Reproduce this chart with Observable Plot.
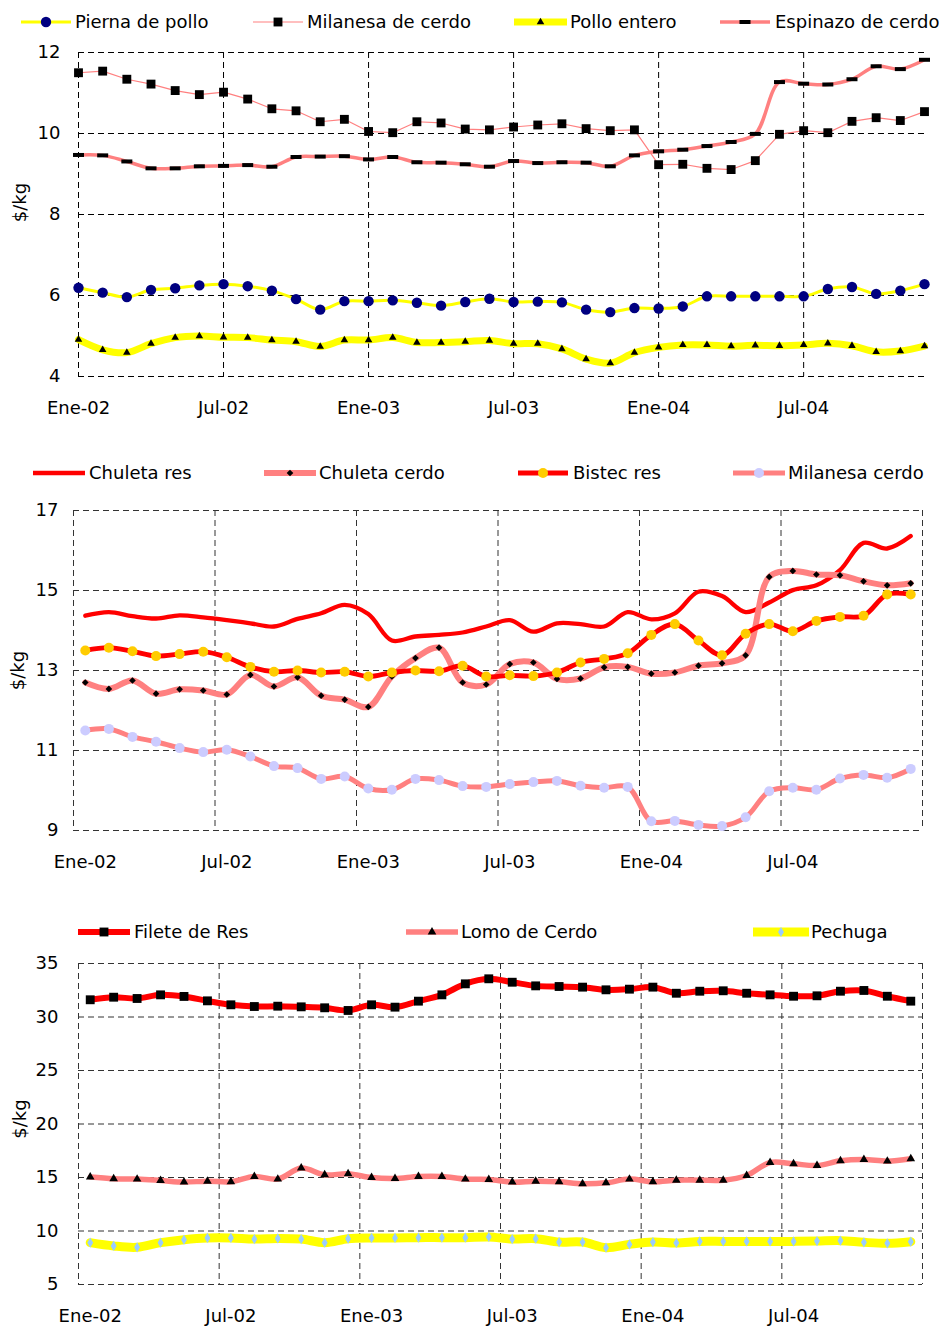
<!DOCTYPE html>
<html><head><meta charset="utf-8">
<script src="https://cdn.jsdelivr.net/npm/d3@7"></script>
<script src="https://cdn.jsdelivr.net/npm/@observablehq/plot@0.6"></script>
<style>
body{margin:0;background:#fff;}
#root{position:relative;width:945px;height:1330px;overflow:hidden;font-family:"DejaVu Sans",Verdana,sans-serif;background:#fff;}
#root svg{position:absolute;left:0;background:transparent !important;}
</style></head><body><div id="root"></div>
<script>
// ---------- data ----------
const tickLabels = ["Ene-02","Jul-02","Ene-03","Jul-03","Ene-04","Jul-04"];
const tickIdx = [0,6,12,18,24,30];

const names1 = ["Pierna de pollo","Milanesa de cerdo","Pollo entero","Espinazo de cerdo"];
const piernaPollo = [6.19,6.07,5.96,6.14,6.18,6.25,6.28,6.23,6.12,5.91,5.65,5.86,5.86,5.88,5.82,5.75,5.84,5.92,5.84,5.85,5.83,5.65,5.59,5.69,5.68,5.73,5.98,5.98,5.98,5.98,5.98,6.16,6.21,6.04,6.12,6.28];
const milanesaCerdo = [11.50,11.54,11.34,11.22,11.06,10.96,11.02,10.85,10.61,10.56,10.29,10.35,10.05,10.02,10.29,10.26,10.11,10.09,10.16,10.21,10.24,10.12,10.07,10.09,9.23,9.24,9.14,9.11,9.33,9.98,10.07,10.02,10.30,10.39,10.32,10.54];
const polloEntero = [4.91,4.66,4.59,4.81,4.96,5.00,4.97,4.96,4.90,4.86,4.74,4.90,4.90,4.96,4.84,4.84,4.86,4.89,4.81,4.81,4.68,4.43,4.33,4.59,4.72,4.78,4.78,4.75,4.77,4.76,4.78,4.82,4.76,4.61,4.63,4.75];
const espinazoCerdo = [9.47,9.46,9.31,9.14,9.14,9.19,9.20,9.22,9.18,9.42,9.43,9.44,9.36,9.42,9.29,9.28,9.24,9.18,9.32,9.27,9.29,9.28,9.19,9.46,9.56,9.60,9.69,9.79,9.99,11.27,11.23,11.21,11.34,11.66,11.59,11.82];
const yTicks1 = [4,6,8,10,12];

const names2 = ["Chuleta res","Chuleta cerdo","Bistec res","Milanesa cerdo"];
const chuletaRes = [14.37,14.46,14.36,14.30,14.38,14.33,14.26,14.18,14.10,14.29,14.43,14.64,14.41,13.75,13.85,13.89,13.95,14.10,14.26,13.97,14.18,14.16,14.10,14.46,14.28,14.43,14.97,14.86,14.46,14.70,15.01,15.13,15.51,16.19,16.05,16.36];
const chuletaCerdo = [12.70,12.54,12.75,12.42,12.53,12.50,12.40,12.89,12.60,12.83,12.37,12.27,12.09,12.85,13.31,13.57,12.70,12.65,13.16,13.20,12.79,12.80,13.08,13.09,12.92,12.95,13.12,13.18,13.38,15.34,15.49,15.40,15.38,15.23,15.13,15.18];
const bistecRes = [13.50,13.57,13.48,13.36,13.41,13.47,13.33,13.09,12.97,13.00,12.95,12.97,12.85,12.95,13.00,12.98,13.12,12.85,12.88,12.86,12.95,13.20,13.29,13.43,13.89,14.16,13.75,13.38,13.92,14.16,13.98,14.24,14.34,14.37,14.90,14.90];
const yTicks2 = [9,11,13,15,17];

const names3 = ["Filete de Res","Lomo de Cerdo","Pechuga"];
const fileteRes = [31.61,31.85,31.73,32.07,31.92,31.51,31.14,30.98,31.01,30.95,30.86,30.61,31.14,30.92,31.48,32.07,33.10,33.57,33.25,32.91,32.85,32.79,32.54,32.60,32.79,32.22,32.41,32.45,32.22,32.07,31.94,31.98,32.41,32.48,31.94,31.48];
const lomoCerdo = [15.04,14.88,14.85,14.72,14.57,14.66,14.60,15.10,14.85,15.88,15.25,15.35,15.00,14.91,15.10,15.10,14.85,14.82,14.57,14.66,14.60,14.41,14.50,14.85,14.60,14.75,14.75,14.75,15.19,16.40,16.28,16.12,16.56,16.68,16.53,16.75];
const pechuga = [8.91,8.60,8.48,8.91,9.19,9.35,9.35,9.25,9.31,9.25,8.91,9.28,9.35,9.35,9.38,9.38,9.38,9.44,9.25,9.28,8.97,8.97,8.44,8.75,8.97,8.88,9.03,9.03,9.03,9.03,9.03,9.06,9.10,8.94,8.85,9.00];
const yTicks3 = [5,10,15,20,25,30,35];

// ---------- styles ----------
const FONT = "DejaVu Sans, Verdana, sans-serif";
const dashSym = {draw(ctx){ const w=11,h=4; ctx.moveTo(-w/2,-h/2); ctx.lineTo(w/2,-h/2); ctx.lineTo(w/2,h/2); ctx.lineTo(-w/2,h/2); ctx.closePath(); }};
const d3Sym = {circle:d3.symbolCircle, square:d3.symbolSquare, triangle:d3.symbolTriangle, diamond:d3.symbolDiamond, diamond2:d3.symbolDiamond2};

const st1 = [
  {stroke:"#FFFF00", sw:3, curve:"catmull-rom", symbol:"circle", r:5.2, fill:"#000080"},
  {stroke:"#FF8080", sw:1.2, curve:"linear", symbol:"square", r:5, fill:"#000"},
  {stroke:"#FFFF00", sw:7, curve:"catmull-rom", symbol:"triangle", r:2.8, fill:"#000"},
  {stroke:"#FF8080", sw:3.5, curve:"catmull-rom", symbol:dashSym, r:4, fill:"#000"}
];
const st2 = [
  {stroke:"#FF0000", sw:4.3, curve:"catmull-rom"},
  {stroke:"#FF8080", sw:6, curve:"catmull-rom", symbol:"diamond2", r:3, fill:"#000"},
  {stroke:"#FF0000", sw:4.8, curve:"catmull-rom", symbol:"circle", r:5, fill:"#FFCC00"},
  {stroke:"#FF8080", sw:5, curve:"catmull-rom", symbol:"circle", r:5, fill:"#CCCCFF"}
];
const st3 = [
  {stroke:"#FF0000", sw:6, curve:"catmull-rom", symbol:"square", r:5, fill:"#000"},
  {stroke:"#FF8080", sw:5.5, curve:"catmull-rom", symbol:"triangle", r:3.2, fill:"#000"},
  {stroke:"#FFFF00", sw:9, curve:"catmull-rom", symbol:"diamond", r:3.1, fill:"#99CCFF"}
];

const root = document.getElementById("root");

function seriesMarks(vals, s){
  const data = vals.map((v,i)=>({i, v}));
  const m = [Plot.line(data, {x:"i", y:"v", stroke:s.stroke, strokeWidth:s.sw, curve:s.curve, strokeLinejoin:"round", strokeLinecap:"round"})];
  if (s.symbol) m.push(Plot.dot(data, {x:"i", y:"v", r:s.r, fill:s.fill, stroke:"none", symbol:s.symbol}));
  return m;
}

function panel(cfg){
  const grid = {stroke:cfg.gridColor, strokeOpacity:1, strokeWidth:1, strokeDasharray:"6,4"};
  const marks = [
    Plot.gridY(cfg.yTicks, grid),
    Plot.gridX(cfg.xGrid, grid),
    Plot.axisX(tickIdx, {tickSize:0, tickPadding:cfg.xPad, tickFormat:i=>tickLabels[i/6], fontSize:18, label:null}),
    Plot.axisY(cfg.yTicks, {tickSize:0, tickPadding:cfg.yPad, fontSize:18, label:null}),
    Plot.text(["$/kg"], {frameAnchor:"left", textAnchor:"middle", dx:cfg.labDx, dy:cfg.labDy, rotate:-90, fontSize:18, fill:"#000"})
  ];
  cfg.series.forEach((vals,k)=>marks.push(...seriesMarks(vals, cfg.styles[k])));
  const svg = Plot.plot({
    width:945, height:cfg.height,
    marginTop:cfg.mt, marginBottom:cfg.mb, marginLeft:cfg.ml, marginRight:cfg.mr,
    style:{fontFamily:FONT, fontSize:"18px", color:"#000", background:"transparent"},
    x:{domain:cfg.xDomain}, y:{domain:cfg.yDomain},
    marks
  });
  svg.style.top = cfg.top + "px";
  root.appendChild(svg);
}

function legend(top, items, names, styles){
  const h = 28, cy = h/2;
  const svg = d3.create("svg").attr("width",945).attr("height",h).style("top", top+"px");
  items.forEach((it,k)=>{
    const s = styles[k];
    svg.append("line").attr("x1",it[0]).attr("x2",it[1]).attr("y1",cy).attr("y2",cy).attr("stroke",s.stroke).attr("stroke-width",s.sw);
    if (s.symbol){
      const type = typeof s.symbol === "string" ? d3Sym[s.symbol] : s.symbol;
      svg.append("path").attr("d", d3.symbol(type, Math.PI*s.r*s.r)()).attr("transform",`translate(${(it[0]+it[1])/2},${cy})`).attr("fill",s.fill);
    }
    svg.append("text").attr("x",it[2]).attr("y",cy).attr("dy","0.36em").attr("font-size",18).attr("font-family",FONT).attr("fill","#000").text(names[k]);
  });
  root.appendChild(svg.node());
}

// ---------- panels ----------
panel({top:32, height:400, mt:20, mb:56, ml:78, mr:21, xDomain:[0,35], yDomain:[4,12], yTicks:yTicks1,
  xGrid:tickIdx, gridColor:"#000", xPad:25, yPad:18, labDx:-58, labDy:-12,
  series:[piernaPollo, milanesaCerdo, polloEntero, espinazoCerdo], styles:st1});

panel({top:490, height:390, mt:20, mb:50, ml:73, mr:23, xDomain:[-0.5,35.5], yDomain:[9,17], yTicks:yTicks2,
  xGrid:[-0.5,5.5,11.5,17.5,23.5,29.5,35.5], gridColor:"#333", xPad:25, yPad:15, labDx:-55, labDy:0,
  series:[chuletaRes, chuletaCerdo, bistecRes, milanesaCerdo], styles:st2});

panel({top:945, height:385, mt:18, mb:46, ml:78, mr:23, xDomain:[-0.5,35.5], yDomain:[5,35], yTicks:yTicks3,
  xGrid:[-0.5,5.5,11.5,17.5,23.5,29.5,35.5], gridColor:"#333", xPad:25, yPad:20, labDx:-58, labDy:-5,
  series:[fileteRes, lomoCerdo, pechuga], styles:st3});

// ---------- legends ----------
legend(8, [[21,71,75],[253,303,307],[514,567,570],[720,770,775]], names1, st1);
legend(459, [[33,85,89],[264,316,319],[518,568,573],[733,785,788]], names2, st2);
legend(918, [[78,130,134],[406,458,461],[753,809,811]], names3, st3);
</script>
</body></html>
